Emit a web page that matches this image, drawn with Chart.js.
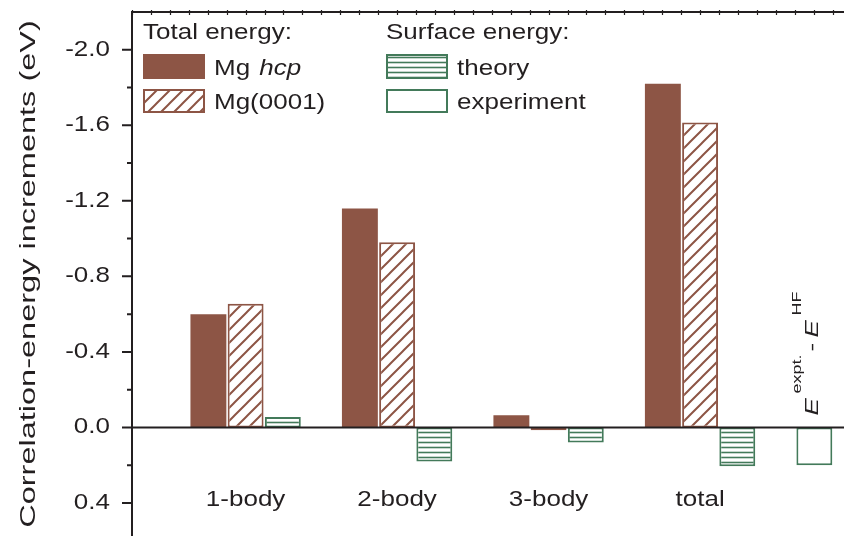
<!DOCTYPE html>
<html>
<head>
<meta charset="utf-8">
<script src="https://cdn.jsdelivr.net/npm/chart.js@4.4.1/dist/chart.umd.min.js"></script>
<style>
  html, body { margin: 0; padding: 0; background: #fff; }
  #wrap { width: 844px; height: 536px; position: relative; }
</style>
</head>
<body>
<div id="wrap"><canvas id="corrChart"></canvas></div>
<script>
// correlation-energy increments, eV (negative = energy gain, plotted upward)
const CATEGORIES = ['1-body', '2-body', '3-body', 'total'];
const MG_HCP = [-0.60, -1.16, -0.065, -1.82];
const MG_0001 = [-0.655, -0.98, 0.015, -1.615];
const SURF_THEORY = [-0.055, 0.18, 0.08, 0.205];
const SURF_EXPT = [0.20];

const Y_MIN = -2.2;
const Y_MAX = 0.575;
const Y_STEP = 0.4;

const FONT = '"Liberation Sans", Arial, Helvetica, sans-serif';
const TEXT = '#231f20';
const AXIS = '#231f20';
const BROWN = '#8d5545';
const GREEN = '#437a5a';

const canvas = document.getElementById('corrChart');
const ctx = canvas.getContext('2d');

// the figure's lettering is set wide and short: squash glyph height on every fillText
const rawFillText = ctx.fillText.bind(ctx);
ctx.fillText = function (text, x, y, maxWidth) {
  const m = this.getTransform();
  const k = Math.abs(m.b) > 0.5 ? 0.68 : 0.83;
  this.save();
  this.translate(x, y);
  this.scale(1, k);
  if (maxWidth === undefined) rawFillText(text, 0, 0);
  else rawFillText(text, 0, 0, maxWidth);
  this.restore();
};

function makePattern(w, h, draw) {
  const c = document.createElement('canvas');
  c.width = w; c.height = h;
  const g = c.getContext('2d');
  g.fillStyle = '#fff';
  g.fillRect(0, 0, w, h);
  draw(g, w, h);
  return ctx.createPattern(c, 'repeat');
}

const hatch = makePattern(13, 13, (g, w, h) => {
  g.strokeStyle = BROWN;
  g.lineWidth = 2;
  g.beginPath();
  g.moveTo(-2, h + 2); g.lineTo(w + 2, -2);
  g.moveTo(-2, 2); g.lineTo(2, -2);
  g.moveTo(w - 2, h + 2); g.lineTo(w + 2, h - 2);
  g.stroke();
});

const stripes = makePattern(4, 5, (g, w) => {
  g.strokeStyle = GREEN;
  g.lineWidth = 1.6;
  g.beginPath();
  g.moveTo(0, 2.5); g.lineTo(w, 2.5);
  g.stroke();
});

const slot = (vals, first) => vals.map((v, i) => ({ x: i + first, y: v }));

const figurePlugin = {
  id: 'figureDecor',
  afterDatasetsDraw(chart) {
    const { ctx, chartArea: a, scales: { y } } = chart;
    const zy = y.getPixelForValue(0);
    ctx.save();
    ctx.strokeStyle = AXIS;
    ctx.lineWidth = 2;
    ctx.beginPath();
    ctx.moveTo(a.left, zy); ctx.lineTo(a.right, zy);
    ctx.stroke();
    ctx.restore();
  },
  afterDraw(chart) {
    const { ctx, chartArea: a, scales: { x, y } } = chart;
    ctx.save();
    ctx.strokeStyle = AXIS;

    // top frame with fine ticks
    ctx.lineWidth = 2;
    ctx.beginPath();
    ctx.moveTo(a.left, a.top); ctx.lineTo(a.right, a.top);
    ctx.stroke();
    ctx.lineWidth = 1.2;
    ctx.beginPath();
    for (let v = x.min; v <= x.max + 1e-9; v += 0.125) {
      const px = Math.round(x.getPixelForValue(v)) + 0.5;
      ctx.moveTo(px, a.top - 2); ctx.lineTo(px, a.top + 3);
    }
    ctx.stroke();

    // major and minor ticks on the value axis
    ctx.lineWidth = 2;
    ctx.beginPath();
    const majors = y.ticks.map(t => t.value);
    majors.forEach(v => {
      const py = y.getPixelForValue(v);
      ctx.moveTo(a.left - 10, py); ctx.lineTo(a.left, py);
    });
    const minors = [majors[0] - Y_STEP / 2, ...majors.map(v => v + Y_STEP / 2)];
    minors.forEach(v => {
      const py = y.getPixelForValue(v);
      if (py < a.top - 1 || py > a.bottom) return;
      ctx.moveTo(a.left - 5, py); ctx.lineTo(a.left, py);
    });
    ctx.stroke();

    drawLegend(chart);
    drawExptLabel(chart);
    ctx.restore();
  }
};

function drawLegend(chart) {
  const { ctx } = chart;
  const ds = chart.data.datasets;
  ctx.save();
  ctx.fillStyle = TEXT;
  ctx.textAlign = 'left';
  ctx.textBaseline = 'alphabetic';
  ctx.font = '26px ' + FONT;

  const cols = [
    { x: 143, head: 'Total energy:', items: [0, 1] },
    { x: 386, head: 'Surface energy:', items: [2, 3] }
  ];
  const rows = [{ top: 54, h: 25, base: 75 }, { top: 89, h: 24, base: 109 }];

  cols.forEach(col => {
    ctx.fillStyle = TEXT;
    ctx.font = '26px ' + FONT;
    ctx.fillText(col.head, col.x, 38.5);
    col.items.forEach((di, r) => {
      const d = ds[di];
      const row = rows[r];
      ctx.fillStyle = d.backgroundColor;
      ctx.fillRect(col.x, row.top, 62, row.h);
      if (d.borderWidth) {
        ctx.strokeStyle = d.borderColor;
        ctx.lineWidth = d.borderWidth;
        ctx.strokeRect(col.x + 1, row.top + 1, 60, row.h - 2);
      }
      ctx.fillStyle = TEXT;
      const tx = col.x + 71;
      if (d.label === 'Mg hcp') {
        ctx.font = '26px ' + FONT;
        ctx.fillText('Mg ', tx, row.base);
        const w = ctx.measureText('Mg ').width;
        ctx.font = 'italic 26px ' + FONT;
        ctx.fillText('hcp', tx + w + 2, row.base);
      } else {
        ctx.font = '26px ' + FONT;
        ctx.fillText(d.label, tx, row.base);
      }
    });
  });
  ctx.restore();
}

function drawExptLabel(chart) {
  const { ctx, scales: { y } } = chart;
  const bar = chart.getDatasetMeta(3).data[0];
  if (!bar) return;
  const zy = y.getPixelForValue(0);
  ctx.save();
  ctx.translate(bar.x + 4, zy - 12);
  ctx.rotate(-Math.PI / 2);
  ctx.fillStyle = TEXT;
  ctx.textAlign = 'left';
  ctx.textBaseline = 'alphabetic';
  const big = 'italic 26px ' + FONT;
  const reg = '26px ' + FONT;
  const sup = '18px ' + FONT;
  ctx.font = big; ctx.fillText('E', 0, 0);
  ctx.font = sup; ctx.fillText('expt.', 22, -17);
  ctx.font = reg; ctx.fillText('-', 64, 0);
  ctx.font = big; ctx.fillText('E', 78, 0);
  ctx.font = sup; ctx.fillText('HF', 100, -17);
  ctx.restore();
}

Chart.defaults.font.family = FONT;
Chart.defaults.color = TEXT;

new Chart(ctx, {
  type: 'bar',
  data: {
    datasets: [
      { label: 'Mg hcp', data: slot(MG_HCP, 1), stack: 'hcp', backgroundColor: BROWN, borderWidth: 0 },
      { label: 'Mg(0001)', data: slot(MG_0001, 1), stack: 'slab', backgroundColor: hatch, borderColor: BROWN, borderWidth: 2 },
      { label: 'theory', data: slot(SURF_THEORY, 1), stack: 'surf', backgroundColor: stripes, borderColor: GREEN, borderWidth: 2 },
      { label: 'experiment', data: slot(SURF_EXPT, CATEGORIES.length + 1), stack: 'hcp', backgroundColor: '#fff', borderColor: GREEN, borderWidth: 2 }
    ]
  },
  options: {
    responsive: true,
    maintainAspectRatio: false,
    animation: false,
    layout: { padding: { top: 12, right: 0, bottom: 0, left: 0 } },
    datasets: {
      bar: { categoryPercentage: 0.737, barPercentage: 0.965, borderSkipped: false }
    },
    plugins: { legend: { display: false }, tooltip: { enabled: false } },
    scales: {
      x: {
        type: 'linear',
        min: 0.25,
        max: 4.95,
        offset: false,
        position: { y: 0.3 },
        grid: { display: false, drawTicks: false, offset: false },
        border: { display: false },
        afterFit: s => { s.paddingLeft = 0; s.paddingRight = 0; },
        ticks: {
          stepSize: 1,
          includeBounds: false,
          autoSkip: false,
          maxRotation: 0,
          padding: 0,
          color: TEXT,
          font: { size: 26 },
          callback: v => CATEGORIES[v - 1] ?? ''
        }
      },
      y: {
        min: Y_MIN,
        max: Y_MAX,
        reverse: true,
        afterFit: s => { s.width = 132; s.paddingTop = 0; s.paddingBottom = 0; },
        grid: { display: false, drawTicks: false },
        border: { display: true, color: AXIS, width: 2 },
        ticks: {
          stepSize: Y_STEP,
          includeBounds: false,
          padding: 22,
          color: TEXT,
          font: { size: 26 },
          callback: v => v.toFixed(1)
        },
        title: {
          display: true,
          text: 'Correlation-energy increments (eV)',
          color: TEXT,
          font: { size: 32.5 },
          padding: { top: 9, bottom: 0 }
        }
      }
    }
  },
  plugins: [figurePlugin]
});
</script>
</body>
</html>
